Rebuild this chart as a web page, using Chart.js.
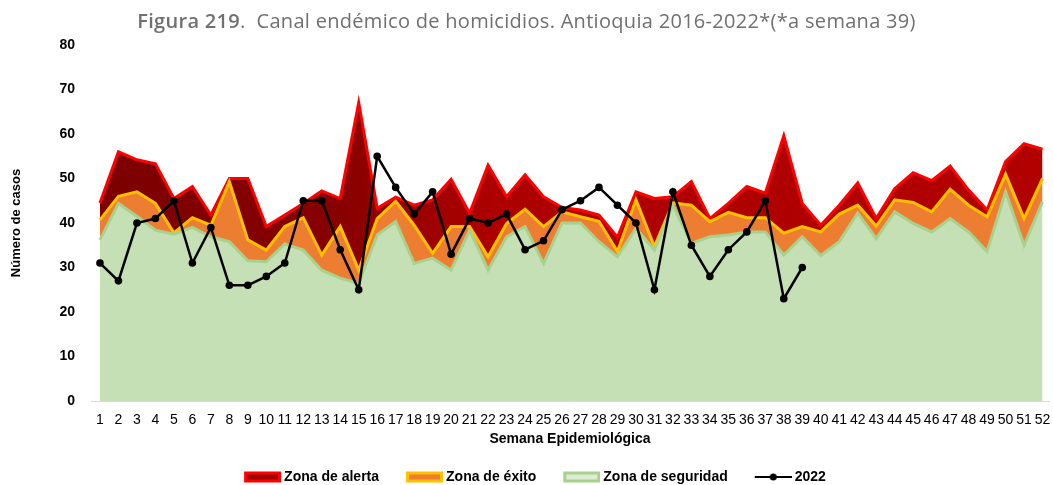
<!DOCTYPE html>
<html>
<head>
<meta charset="utf-8">
<script src="https://cdn.jsdelivr.net/npm/chart.js@4"></script>
<style>
  body { margin: 0; background: #fff; overflow: hidden; }
  #wrap { position: relative; width: 1053px; height: 494px; }
  #title {
    position: absolute; left: 0; top: 7px; width: 1053px; text-align: center;
    font-family: "Open Sans", "Noto Sans", sans-serif; font-size: 20px; color: #707070;
    letter-spacing: 0.3px; white-space: pre;
  }
  #title b { font-weight: 600; }
</style>
</head>
<body>
<div id="wrap">
  <div id="title"><b>Figura 219</b>.  Canal endémico de homicidios. Antioquia 2016-2022*(*a semana 39)</div>
  <canvas id="chart" width="1053" height="494"></canvas>
</div>
<script>
// Semanas epidemiologicas
const weeks = [];
for (let w = 1; w <= 52; w++) weeks.push(w);

// Limite superior de cada zona
const zonaSeguridad = [36.2, 44.4, 41.5, 38.4, 37.5, 39, 36.9, 35.8, 31.5, 31.3,
  35.3, 33.9, 29.4, 27.6, 26.4, 37.3, 40.3, 30.9, 32.1, 29.4,
  38.4, 29.4, 36.9, 39.2, 30.9, 40, 40, 35.8, 32.4, 38.8,
  33.9, 44, 35.4, 36.9, 37.3, 38, 38, 32.8, 36.9, 32.7,
  35.8, 42.2, 36.5, 42.5, 39.9, 38, 41, 38, 33.6, 47,
  35, 44.8];
const zonaExito = [40.7, 46, 47, 44.4, 37.8, 41.2, 39.5, 49.3, 36.2, 33.9,
  39.2, 41.2, 32.8, 39.2, 29.4, 41, 44.9, 39.5, 33.2, 39.2,
  39.2, 32.4, 39.9, 43.1, 39.2, 42.5, 41.4, 40.4, 33.6, 45.2,
  34.7, 44.5, 44, 40.3, 42.4, 41.2, 41.2, 37.7, 39.2, 38,
  42, 44, 39.3, 45.2, 44.6, 42.5, 47.6, 44, 41.4, 51,
  41, 50];
const zonaAlerta = [44.5, 56, 54.2, 53.3, 45.5, 48.2, 41.8, 50, 50, 39.2,
  41.8, 44.4, 47.2, 45.5, 67, 43.3, 45.8, 44, 45.2, 49.8,
  42.2, 53, 45.9, 50.8, 45.9, 43.5, 42.9, 41.8, 36.8, 47,
  45.5, 45.9, 49.3, 41, 44.4, 48.2, 46.7, 59.6, 44.4, 39.5,
  44, 49, 41, 47.7, 51.3, 49.5, 52.8, 47.4, 42.9, 53.8,
  57.8, 56.6];
// Casos 2022 hasta la semana 39
const casos2022 = [31, 27, 40, 41, 45, 31, 39, 26, 26, 28,
  31, 45, 45, 34, 25, 55, 48, 42, 47, 33,
  41, 40, 42, 34, 36, 43, 45, 48, 44, 40,
  25, 47, 35, 28, 34, 38, 45, 23, 30];

const yTicks = [0, 10, 20, 30, 40, 50, 60, 70, 80];

function toPoints(values) {
  return values.map((v, i) => ({ x: weeks[i], y: v }));
}

// legend icons: transparent margin on the left so the gaps look like the original
function legendIcon(border, fill, isLine) {
  const c = document.createElement('canvas');
  c.width = 58; c.height = 14;
  const g = c.getContext('2d');
  if (isLine) {
    g.strokeStyle = '#000'; g.lineWidth = 2;
    g.beginPath(); g.moveTo(21, 7); g.lineTo(58, 7); g.stroke();
    g.fillStyle = '#000';
    g.beginPath(); g.arc(39.5, 7, 3.5, 0, Math.PI * 2); g.fill();
  } else {
    g.fillStyle = border;
    g.fillRect(21, 1.5, 37, 11);
    g.fillStyle = fill;
    g.fillRect(24, 4.5, 31, 5);
  }
  return c;
}
const icons = [
  legendIcon(null, null, true),
  legendIcon('#a9d18e', '#dcebd2'),
  legendIcon('#ffc000', '#ed7d31'),
  legendIcon('#ff0000', '#a00000')
];

function alertFill(context) {
  const area = context.chart.chartArea;
  if (!area) return '#a00000';
  const grad = context.chart.ctx.createLinearGradient(area.left, 0, area.right, 0);
  grad.addColorStop(0, '#7c0000');
  grad.addColorStop(0.25, '#870000');
  grad.addColorStop(0.42, '#ad0000');
  grad.addColorStop(1, '#b20000');
  return grad;
}

const font = 'Liberation Sans, Arial, sans-serif';

new Chart(document.getElementById('chart'), {
  type: 'line',
  data: {
    datasets: [
      {
        label: '2022',
        data: toPoints(casos2022),
        borderColor: '#000',
        backgroundColor: '#000',
        borderWidth: 2.5,
        pointRadius: 3.8,
        pointBackgroundColor: '#000',
        pointBorderWidth: 0,
        fill: false
      },
      {
        label: 'Zona de seguridad',
        data: toPoints(zonaSeguridad),
        borderColor: '#a9d18e',
        backgroundColor: '#c5e0b4',
        borderWidth: 3,
        pointRadius: 0,
        fill: 'origin'
      },
      {
        label: 'Zona de éxito',
        data: toPoints(zonaExito),
        borderColor: '#ffc000',
        backgroundColor: '#ed7d31',
        borderWidth: 3,
        pointRadius: 0,
        fill: '-1'
      },
      {
        label: 'Zona de alerta',
        data: toPoints(zonaAlerta),
        borderColor: '#ff0000',
        backgroundColor: alertFill,
        borderWidth: 3,
        pointRadius: 0,
        fill: '-1'
      }
    ]
  },
  options: {
    responsive: false,
    animation: false,
    elements: { line: { tension: 0 } },
    layout: { padding: { top: 45, left: 0, right: 0, bottom: 0 } },
    scales: {
      x: {
        type: 'linear',
        min: 0.515,
        max: 52.35,
        afterBuildTicks: s => { s.ticks = weeks.map(w => ({ value: w })); },
        afterFit: s => { s.height = 59; s.paddingRight = 0; s.paddingLeft = 0; },
        grid: { display: false, drawTicks: false },
        border: { display: true, color: '#d9d9d9', width: 1 },
        ticks: {
          autoSkip: false, maxRotation: 0, padding: 11,
          color: '#000', font: { family: font, size: 14 },
          callback: v => String(v)
        },
        title: {
          display: true, text: 'Semana Epidemiológica', color: '#000',
          font: { family: font, size: 14, weight: 'bold' },
          padding: { top: 0, bottom: 12 }
        }
      },
      y: {
        min: 0,
        max: 80,
        afterBuildTicks: s => { s.ticks = yTicks.map(v => ({ value: v })); },
        afterFit: s => { s.width = 91; },
        grid: { display: false, drawTicks: false },
        border: { display: false },
        ticks: {
          padding: 16, color: '#000',
          font: { family: font, size: 14, weight: 'bold' }
        },
        title: {
          display: true, text: 'Número de casos', color: '#000',
          font: { family: font, size: 13, weight: 'bold' },
          padding: { top: 9, bottom: 0 }
        }
      }
    },
    plugins: {
      tooltip: { enabled: false },
      legend: {
        position: 'bottom',
        reverse: true,
        labels: {
          usePointStyle: true,
          pointStyleWidth: 50,
          padding: 10,
          color: '#000',
          font: { family: font, size: 14, weight: 'bold' },
          generateLabels: chart => {
            const items = Chart.defaults.plugins.legend.labels.generateLabels(chart);
            items.forEach(it => { it.pointStyle = icons[it.datasetIndex]; });
            return items;
          }
        }
      }
    }
  }
});
</script>
</body>
</html>
